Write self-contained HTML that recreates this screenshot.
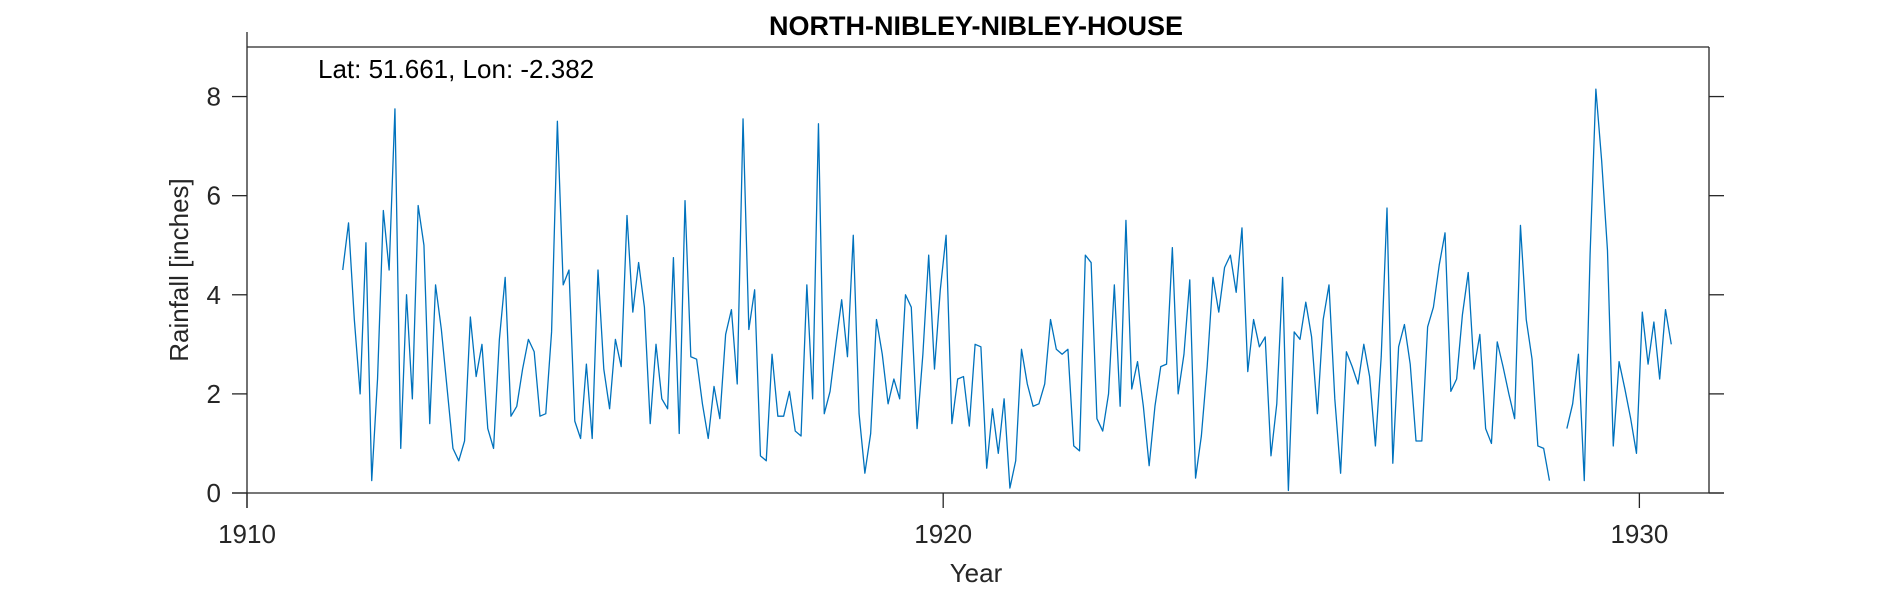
<!DOCTYPE html>
<html><head><meta charset="utf-8"><style>
html,body{margin:0;padding:0;background:#fff;}
svg text{font-family:"Liberation Sans",Arial,sans-serif;fill:#262626;}
</style></head><body>
<svg id="chart" width="1890" height="591" viewBox="0 0 1890 591" xmlns="http://www.w3.org/2000/svg">
<rect width="1890" height="591" fill="#fff"/>
<text x="976" y="35" font-size="27" font-weight="bold" text-anchor="middle" style="fill:#000">NORTH-NIBLEY-NIBLEY-HOUSE</text>
<text x="318" y="78" font-size="26" style="fill:#000">Lat: 51.661, Lon: -2.382</text>
<text x="0" y="0" font-size="26" text-anchor="middle" transform="translate(188,270) rotate(-90)">Rainfall [inches]</text>
<text x="976" y="582" font-size="26" text-anchor="middle">Year</text>
<g id="axes"></g>
<path id="series" fill="none" stroke="#0072BD" stroke-width="1.3" stroke-linejoin="round"/>
</svg>
<script>
const startYear = 1911.375;
const rainfall = [4.5,5.45,3.5,2.0,5.05,0.25,2.3,5.7,4.5,7.75,
0.9,4.0,1.9,5.8,5.0,1.4,4.2,3.3,2.1,0.9,
0.65,1.05,3.55,2.35,3.0,1.3,0.9,3.1,4.35,1.55,
1.75,2.5,3.1,2.85,1.55,1.6,3.25,7.5,4.2,4.5,
1.45,1.1,2.6,1.1,4.5,2.5,1.7,3.1,2.55,5.6,
3.65,4.65,3.75,1.4,3.0,1.9,1.7,4.75,1.2,5.9,
2.75,2.7,1.8,1.1,2.15,1.5,3.2,3.7,2.2,7.55,
3.3,4.1,0.75,0.65,2.8,1.55,1.55,2.05,1.25,1.15,
4.2,1.9,7.45,1.6,2.05,3.0,3.9,2.75,5.2,1.6,
0.4,1.2,3.5,2.8,1.8,2.3,1.9,4.0,3.75,1.3,
2.8,4.8,2.5,4.1,5.2,1.4,2.3,2.35,1.35,3.0,
2.95,0.5,1.7,0.8,1.9,0.1,0.65,2.9,2.2,1.75,
1.8,2.2,3.5,2.9,2.8,2.9,0.95,0.85,4.8,4.65,
1.5,1.25,2.0,4.2,1.75,5.5,2.1,2.65,1.75,0.55,
1.75,2.55,2.6,4.95,2.0,2.8,4.3,0.3,1.15,2.55,
4.35,3.65,4.55,4.8,4.05,5.35,2.45,3.5,2.95,3.15,
0.75,1.8,4.35,0.05,3.25,3.1,3.85,3.15,1.6,3.5,
4.2,1.9,0.4,2.85,2.55,2.2,3.0,2.35,0.95,2.75,
5.75,0.6,2.95,3.4,2.6,1.05,1.05,3.35,3.75,4.6,
5.25,2.05,2.3,3.6,4.45,2.5,3.2,1.3,1.0,3.05,
2.55,2.0,1.5,5.4,3.5,2.7,0.95,0.9,0.25,
null,null,
1.3,1.8,2.8,0.25,4.8,8.15,6.7,4.9,0.95,2.65,2.1,1.5,0.8,3.65,2.6,3.45,2.3,3.7,3.0];
const xTicks = [1910,1920,1930];
const yTicks = [0,2,4,6,8];

const L=247,R=1709,T=47,B=493;
const xMin=1910,xMax=1931,yMin=0,yMax=9;
const X=v=>L+(v-xMin)/(xMax-xMin)*(R-L);
const Y=v=>B-(v-yMin)/(yMax-yMin)*(B-T);
const NS='http://www.w3.org/2000/svg';
const ax=document.getElementById('axes');
function line(x1,y1,x2,y2,name){
  const l=document.createElementNS(NS,'line');
  l.setAttribute('x1',x1);l.setAttribute('y1',y1);l.setAttribute('x2',x2);l.setAttribute('y2',y2);
  l.setAttribute('stroke','#262626');l.setAttribute('stroke-width','1.3');
  
  
  ax.appendChild(l);
}
function text(x,y,s,anchor,name){
  const t=document.createElementNS(NS,'text');
  t.setAttribute('x',x);t.setAttribute('y',y);t.setAttribute('font-size','26');t.setAttribute('text-anchor',anchor);
  t.textContent=s;
  
  
  ax.appendChild(t);
}
const tl=15;
line(L,T-tl,L,B+tl,'y-axis-left');
line(R,T,R,B,'y-axis-right');
line(L-tl,B,R+tl,B,'x-axis-bottom');
line(L,T,R,T,'x-axis-top');
xTicks.forEach(v=>{
  line(X(v),B,X(v),B+tl,'x-tick');
  text(X(v),B+50,String(v),'middle','x-tick-label');
});
yTicks.forEach(v=>{
  line(L-tl,Y(v),L,Y(v),'y-tick');
  line(R,Y(v),R+tl,Y(v),'y-tick-right');
  text(L-26,Y(v)+9,String(v),'end','y-tick-label');
});
let d='',pen=false;
rainfall.forEach((v,i)=>{
  if(v===null){pen=false;return;}
  const x=X(startYear+i/12),y=Y(v);
  d+=(pen?'L':'M')+x.toFixed(2)+' '+y.toFixed(2);
  pen=true;
});
document.getElementById('series').setAttribute('d',d);
</script>
</body></html>
